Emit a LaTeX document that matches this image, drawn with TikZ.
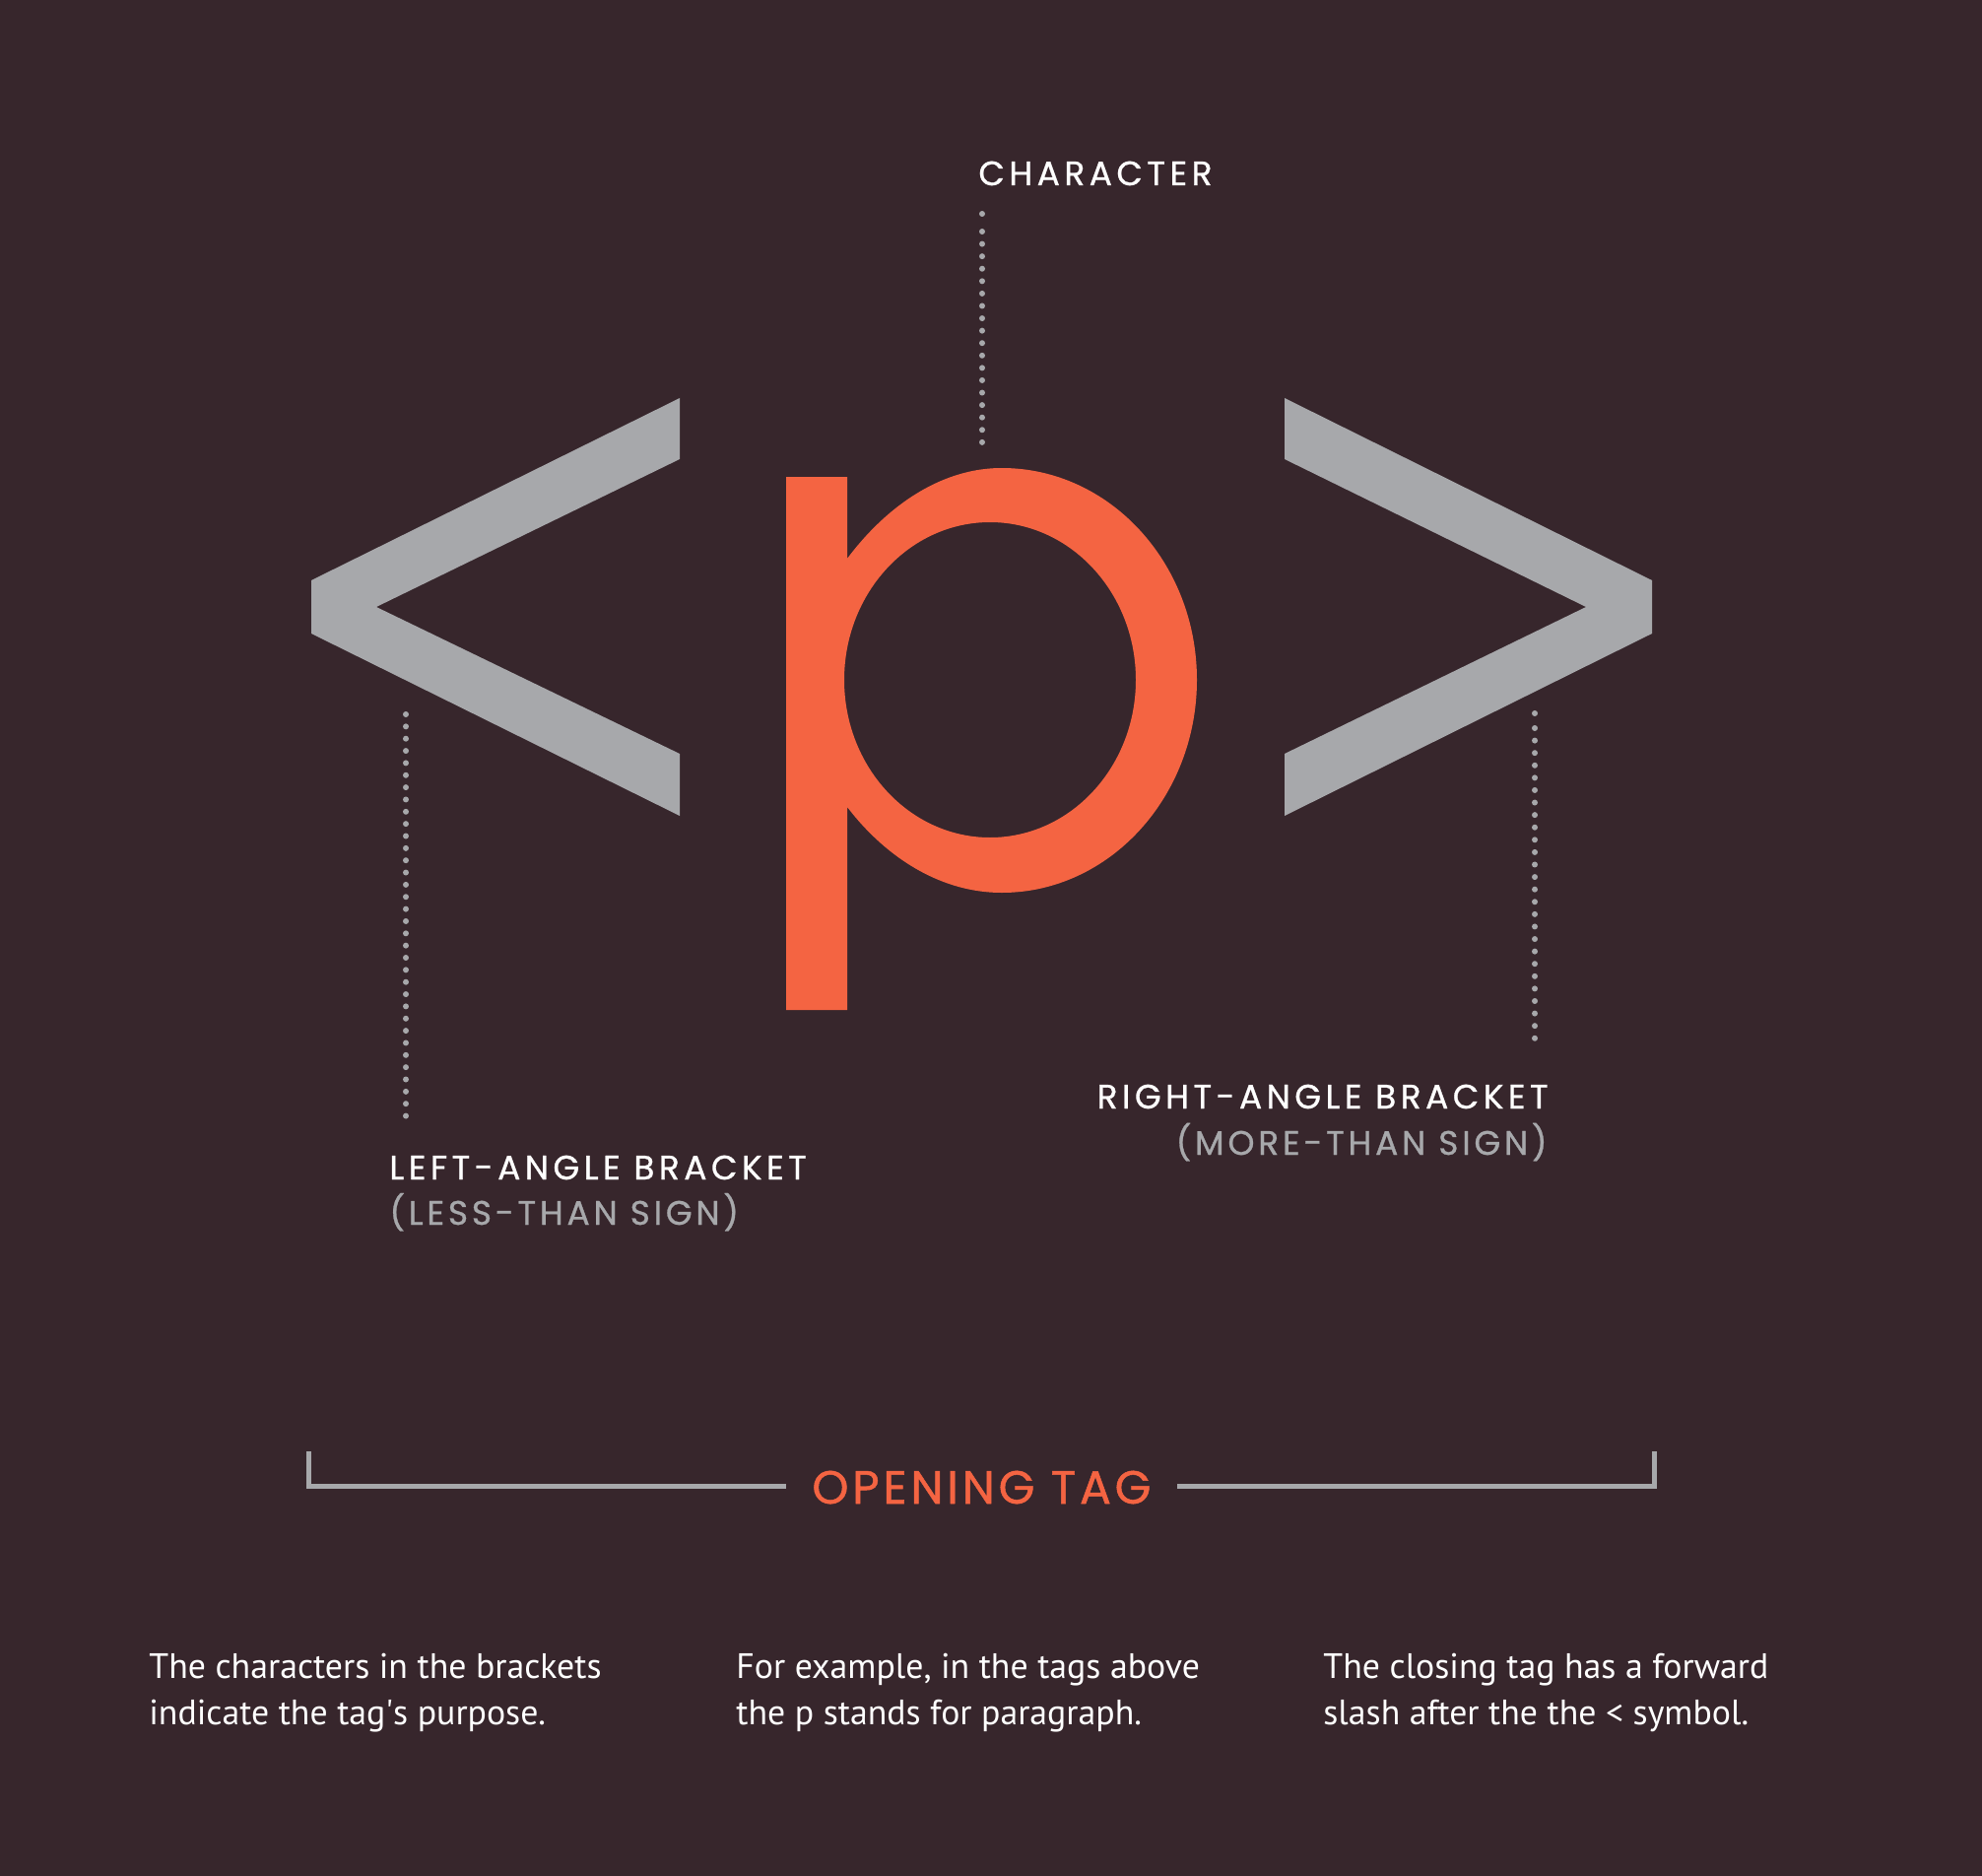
\documentclass[tikz,border=0pt]{standalone}
\usepackage{fontspec}
\setmainfont{PT Sans}
\newfontfamily\labfont{Poppins}[LetterSpace=13,FakeBold=0.8]
\newfontfamily\sublabfont{Poppins}[LetterSpace=11,FakeBold=0.8]
\newfontfamily\tagfont{Poppins}[LetterSpace=8,FakeBold=1]
\definecolor{bg}{HTML}{37262C}
\definecolor{gry}{HTML}{A7A8AB}
\definecolor{orng}{HTML}{F46442}
\begin{document}
\begin{tikzpicture}[x=0.5pt,y=-0.5pt,
  lab/.style={inner sep=0pt, text=white, font=\labfont\fontsize{17.2}{20}\selectfont},
  sublab/.style={inner sep=0pt, text=gry, font=\sublabfont\fontsize{17.2}{20}\selectfont},
  tagtxt/.style={inner sep=0pt, text=orng, font=\tagfont\fontsize{23.6}{28}\selectfont},
  para/.style={inner sep=0pt, text=white, align=left, font=\fontsize{17.9}{23.5}\selectfont},
  glyph/.style={fill=gry},
  dotline/.style={draw=gry, line width=3pt, line cap=round, dash pattern=on 0pt off #1},
  brline/.style={draw=gry, line width=2.5pt}]
\useasboundingbox (0,0) rectangle (2012,1904);
\fill[bg] (0,0) rectangle (2012,1904);

% left-angle bracket
\fill[glyph] (690,404) -- (316,589) -- (316,643) -- (690,828) -- (690,765) -- (382,616) -- (690,466) -- cycle;
% right-angle bracket
\fill[glyph] (1304,404) -- (1677,589) -- (1677,643) -- (1304,828) -- (1304,765) -- (1610,616) -- (1304,466) -- cycle;
% the p
\fill[orng, even odd rule]
  (798,484) -- (860,484) -- (860,567)
  .. controls (895,520) and (950,475) .. (1017,475)
  .. controls (1126,475) and (1215,571) .. (1215,690)
  .. controls (1215,809) and (1126,906) .. (1017,906)
  .. controls (950,906) and (895,865) .. (860,819)
  -- (860,1025) -- (798,1025) -- cycle
  (1005,690) ellipse [x radius=148, y radius=160];

% labels
\node[lab, anchor=base west] (char) at (993,188) {CHARACTER};
\node[lab, anchor=base west] (labl) at (395,1197) {LEFT-ANGLE BRACKET};
\node[sublab, anchor=base west] (less) at (395,1243) {(LESS-THAN SIGN)};
\node[lab, anchor=base east] (labr) at (1572,1125) {RIGHT-ANGLE BRACKET};
\node[sublab, anchor=base east] (more) at (1571,1172) {(MORE-THAN SIGN)};

% dotted connectors
\coordinate (c0) at (997,217);
\coordinate (c1) at (997,235);
\coordinate (c2) at (997,449);
\fill[gry] (c0) circle (3);
\draw[dotline=6.29pt] (c1) -- (c2);
\coordinate (l1) at (412,725);
\coordinate (l2) at (412,1133);
\draw[dotline=6.175pt] (l1) -- (l2);
\coordinate (r0) at (1558,724);
\coordinate (r1) at (1558,739);
\coordinate (r2) at (1558,1054);
\fill[gry] (r0) circle (3);
\draw[dotline=6.295pt] (r1) -- (r2);

% opening tag
\node[tagtxt, anchor=base west] (open) at (824,1526) {OPENING TAG};
\coordinate (bl0) at (313.5,1473);
\coordinate (bl1) at (798,1508.5);
\coordinate (br0) at (1679.5,1473);
\coordinate (br1) at (1195,1508.5);
\draw[brline] (bl0) |- (bl1);
\draw[brline] (br0) |- (br1);

% paragraphs
\node[para, anchor=base west] (p1) at (151,1750) {The characters in the brackets\\indicate the tag\textquotesingle s purpose.};
\node[para, anchor=base west] (p2) at (747,1750) {For example, in the tags above\\the p stands for paragraph.};
\node[para, anchor=base west] (p3) at (1343,1750) {The closing tag has a forward\\slash after the the < symbol.};
\end{tikzpicture}
\end{document}
